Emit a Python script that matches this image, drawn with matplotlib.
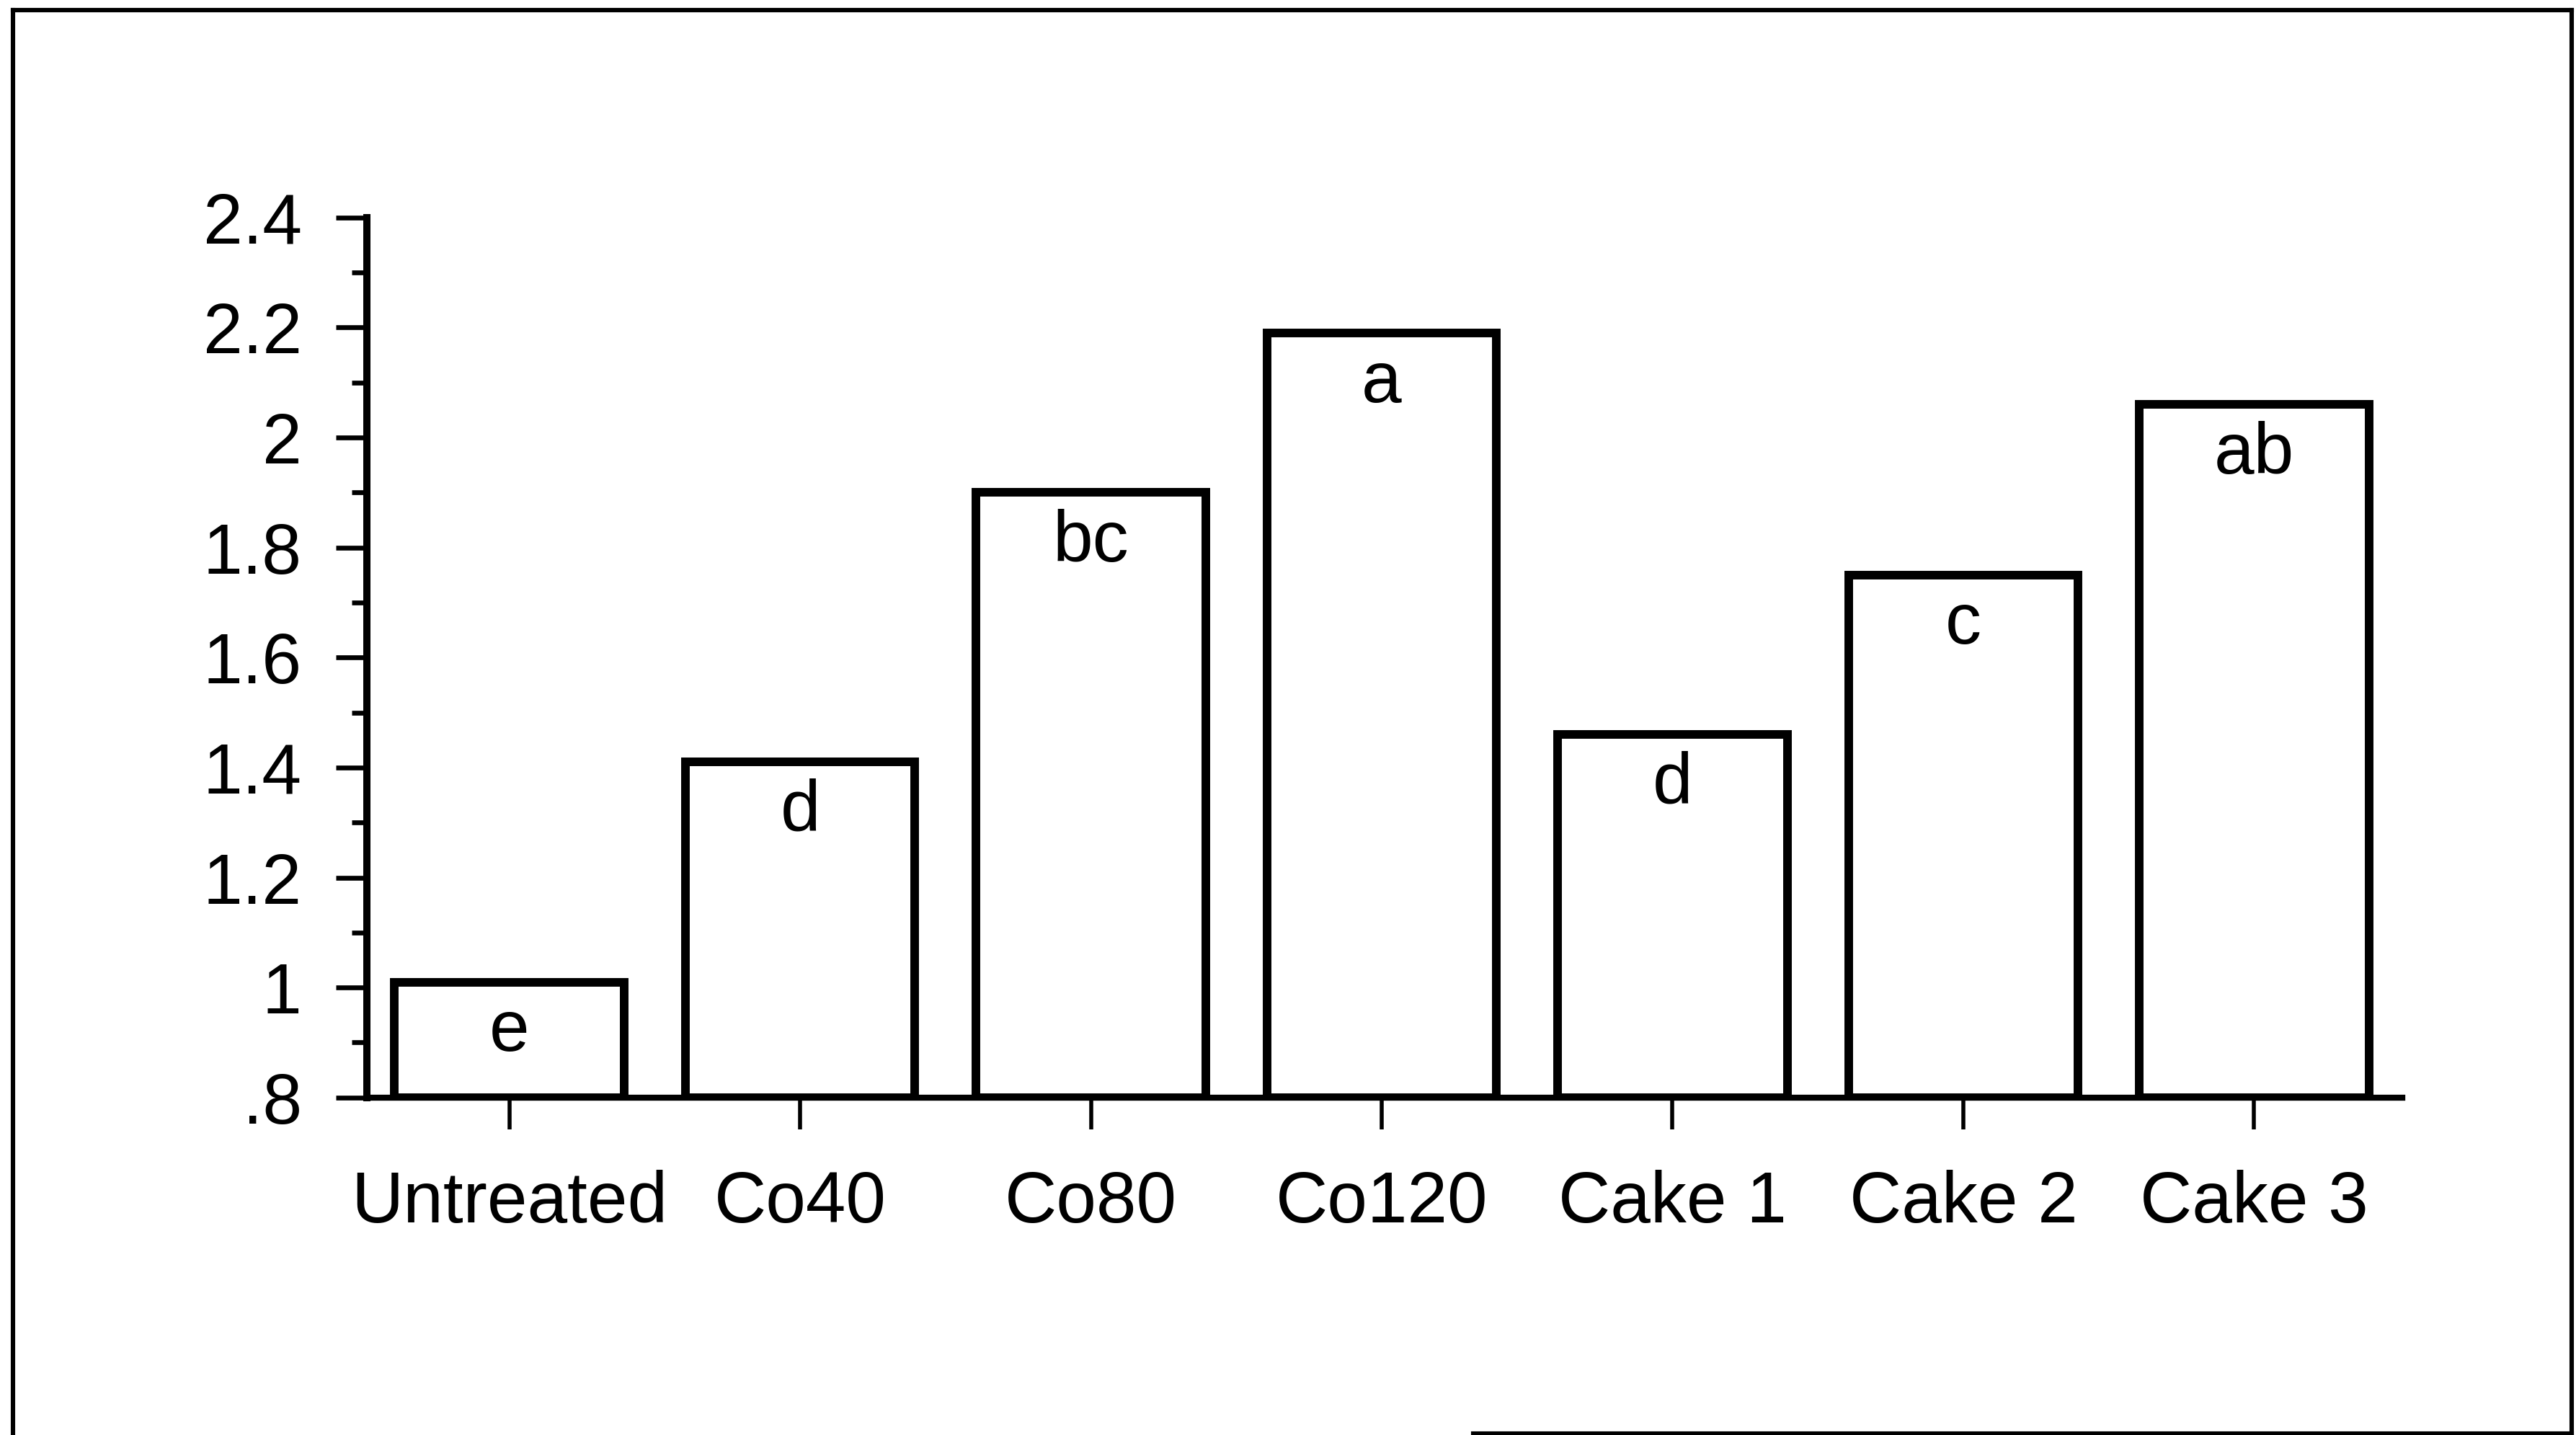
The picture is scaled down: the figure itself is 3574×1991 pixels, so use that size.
import numpy as np
import matplotlib.pyplot as plt
from matplotlib.lines import Line2D

categories = ["Untreated", "Co40", "Co80", "Co120", "Cake 1", "Cake 2", "Cake 3"]
values = [1.01, 1.41, 1.90, 2.19, 1.46, 1.75, 2.06]
letters = ["e", "d", "bc", "a", "d", "c", "ab"]
yticks = [0.8, 1.0, 1.2, 1.4, 1.6, 1.8, 2.0, 2.2, 2.4]
ytick_labels = [".8", "1", "1.2", "1.4", "1.6", "1.8", "2", "2.2", "2.4"]

plt.rcParams["font.family"] = ["Liberation Sans", "DejaVu Sans"]

fig = plt.figure(figsize=(17.87, 9.9575), dpi=200)
ax = fig.add_axes([0.1424, 0.2351, 0.9326 - 0.1424, 0.8483 - 0.2351])

x = np.arange(len(categories))
ax.bar(x, np.array(values) - 0.8, bottom=0.8, width=0.79,
       color="white", edgecolor="black", linewidth=4.3, zorder=2)

for xi, v, lab in zip(x, values, letters):
    ax.annotate(lab, (xi, v), xytext=(0, -8), textcoords="offset points",
                ha="center", va="top", fontsize=36)

ax.set_xlim(-0.49, 6.51)
ax.set_ylim(0.8, 2.4)
ax.set_xticks(x, categories, fontsize=36)
ax.set_yticks(yticks, ytick_labels, fontsize=35.5)
ax.set_yticks(np.arange(0.9, 2.4, 0.2), minor=True)

for s in ["top", "right"]:
    ax.spines[s].set_visible(False)
ax.spines["left"].set_linewidth(3.6)
ax.spines["bottom"].set_linewidth(3.0)
for s in ["left", "bottom"]:
    ax.spines[s].set_zorder(3)

ax.tick_params(axis="y", which="major", direction="out", length=15.5, width=2.4, pad=17)
ax.tick_params(axis="y", which="minor", direction="out", length=7.7, width=2.4)
ax.tick_params(axis="x", which="major", direction="out", length=16, width=2.0, pad=20)

# outer frame of the figure panel
lw = 2.2
fig.add_artist(Line2D([0.005, 0.005], [0.0, 0.9925], color="black", lw=lw))
fig.add_artist(Line2D([0.005, 0.9983], [0.9925, 0.9925], color="black", lw=lw))
fig.add_artist(Line2D([0.9983, 0.9983], [0.001, 0.9925], color="black", lw=lw))
fig.add_artist(Line2D([0.572, 0.9983], [0.001, 0.001], color="black", lw=lw))

plt.savefig("out.png", dpi=200)
